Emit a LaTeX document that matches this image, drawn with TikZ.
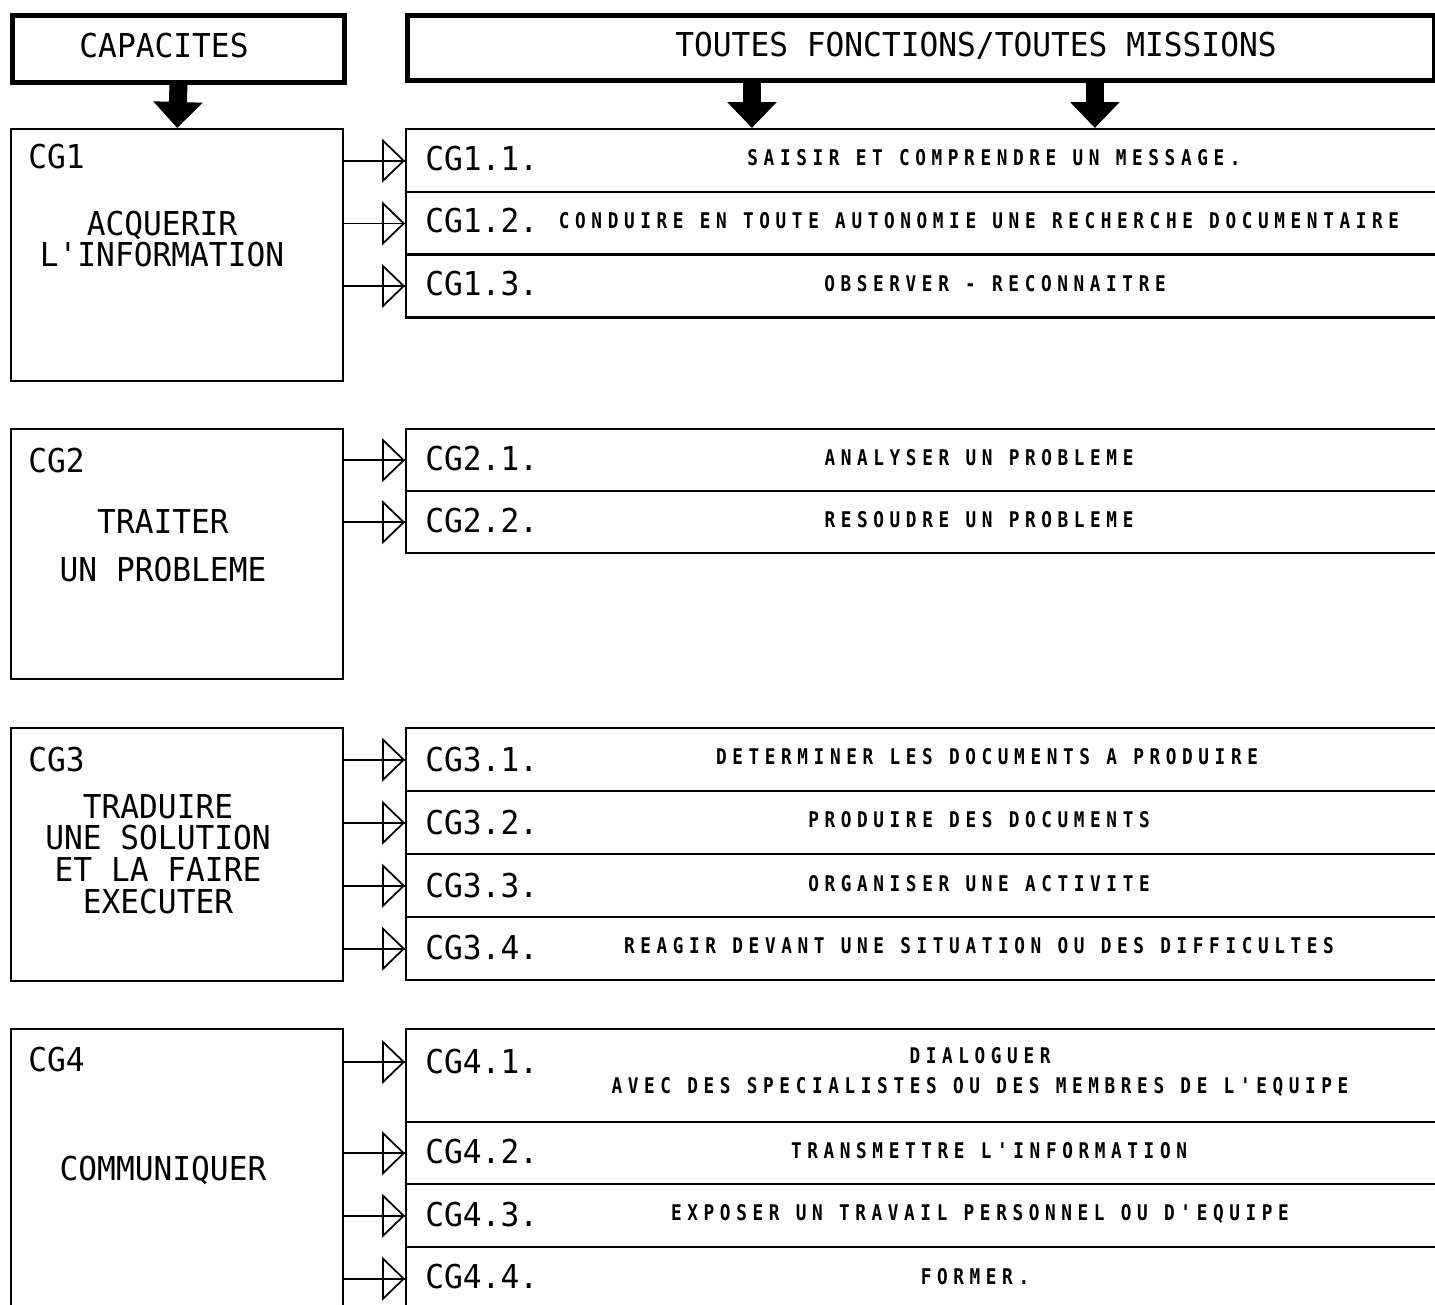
\documentclass[tikz,border=0pt]{standalone}
\usepackage{fontspec}
\usetikzlibrary{arrows.meta}
\newfontfamily\bigf[FakeStretch=0.95]{DejaVu Sans Mono}
\newfontfamily\smallf[FakeStretch=0.82,LetterSpace=26]{DejaVu Sans Mono Bold}
\begin{document}
\begin{tikzpicture}[x=0.02cm,y=-0.02cm,
  hdrbox/.style={draw, line width=2.8pt, inner sep=0, anchor=north west},
  leftbox/.style={draw, line width=1.4pt, inner sep=0, anchor=north west, minimum width=6.64cm},
  rowbox/.style={draw, line width=1.4pt, inner sep=0, anchor=north west, minimum width=20.8cm},
  bigtxt/.style={font=\bigf\fontsize{18.7}{18.1}\selectfont, inner sep=0, align=center},
  smalltxt/.style={font=\smallf\fontsize{12.3}{17.5}\selectfont, inner sep=0, align=center},
  conn/.style={line width=1pt, -{Triangle[open, length=0.46cm, width=0.88cm]}, postaction={draw, -}},
  fat/.style={line width=0.36cm, -{Triangle[length=0.52cm, width=0.96cm]}}]
\useasboundingbox (0,0) rectangle (1435,1304);
\clip (0,0) rectangle (1435,1304);
\fill[white] (0,0) rectangle (1435,1304);

% header boxes
\node[hdrbox, minimum width=6.64cm, minimum height=1.34cm] (cap) at (10,13) {};
\node[hdrbox, minimum width=20.54cm, minimum height=1.3cm] (tf) at (405,13) {};
\node[bigtxt] (capt) at (164,46) {CAPACITES};
\node[bigtxt] (tft) at (976,46) {TOUTES FONCTIONS/TOUTES MISSIONS};

% left boxes
\node[leftbox, minimum height=5.04cm] (cg1) at (10,128) {};
\node[leftbox, minimum height=5.0cm] (cg2) at (10,428) {};
\node[leftbox, minimum height=5.06cm] (cg3) at (10,727) {};
\node[leftbox, minimum height=5.7cm] (cg4) at (10,1028) {};

\node[bigtxt, anchor=west] (cg1l) at (28,157) {CG1};
\node[bigtxt] (cg1t) at (162,239) {ACQUERIR\\L'INFORMATION};
\node[bigtxt, anchor=west] (cg2l) at (28,461) {CG2};
\node[bigtxt] (cg2t) at (163,546) {TRAITER\\[9pt]UN PROBLEME};
\node[bigtxt, anchor=west] (cg3l) at (28,760) {CG3};
\node[bigtxt] (cg3t) at (158,854) {TRADUIRE\\UNE SOLUTION\\ET LA FAIRE\\EXECUTER};
\node[bigtxt, anchor=west] (cg4l) at (28,1060) {CG4};
\node[bigtxt] (cg4t) at (163,1170) {COMMUNIQUER};

% rows CG1
\node[rowbox, minimum height=1.26cm] (r11) at (405,128) {};
\node[rowbox, minimum height=1.26cm] (r12) at (405,190.7) {};
\node[rowbox, minimum height=1.26cm] (r13) at (405,253.3) {};
% rows CG2
\node[rowbox, minimum height=1.24cm] (r21) at (405,428) {};
\node[rowbox, minimum height=1.24cm] (r22) at (405,490) {};
% rows CG3
\node[rowbox, minimum height=1.26cm] (r31) at (405,727) {};
\node[rowbox, minimum height=1.26cm] (r32) at (405,790) {};
\node[rowbox, minimum height=1.26cm] (r33) at (405,853) {};
\node[rowbox, minimum height=1.26cm] (r34) at (405,916) {};
% rows CG4
\node[rowbox, minimum height=1.86cm] (r41) at (405,1028) {};
\node[rowbox, minimum height=1.24cm] (r42) at (405,1121) {};
\node[rowbox, minimum height=1.26cm] (r43) at (405,1183) {};
\node[rowbox, minimum height=1.26cm] (r44) at (405,1246) {};

% row labels
\node[bigtxt, anchor=west] (l11) at (425,159) {CG1.1.};
\node[bigtxt, anchor=west] (l12) at (425,221) {CG1.2.};
\node[bigtxt, anchor=west] (l13) at (425,284) {CG1.3.};
\node[bigtxt, anchor=west] (l21) at (425,459) {CG2.1.};
\node[bigtxt, anchor=west] (l22) at (425,521) {CG2.2.};
\node[bigtxt, anchor=west] (l31) at (425,760) {CG3.1.};
\node[bigtxt, anchor=west] (l32) at (425,823) {CG3.2.};
\node[bigtxt, anchor=west] (l33) at (425,886) {CG3.3.};
\node[bigtxt, anchor=west] (l34) at (425,948) {CG3.4.};
\node[bigtxt, anchor=west] (l41) at (425,1062) {CG4.1.};
\node[bigtxt, anchor=west] (l42) at (425,1152) {CG4.2.};
\node[bigtxt, anchor=west] (l43) at (425,1215) {CG4.3.};
\node[bigtxt, anchor=west] (l44) at (425,1277) {CG4.4.};

% descriptions
\node[smalltxt] (d11) at (994,158) {SAISIR ET COMPRENDRE UN MESSAGE.};
\node[smalltxt] (d12) at (979,221) {CONDUIRE EN TOUTE AUTONOMIE UNE RECHERCHE DOCUMENTAIRE};
\node[smalltxt] (d13) at (995,284) {OBSERVER - RECONNAITRE};
\node[smalltxt] (d21) at (979,458) {ANALYSER UN PROBLEME};
\node[smalltxt] (d22) at (979,520) {RESOUDRE UN PROBLEME};
\node[smalltxt] (d31) at (987,757) {DETERMINER LES DOCUMENTS A PRODUIRE};
\node[smalltxt] (d32) at (979,820) {PRODUIRE DES DOCUMENTS};
\node[smalltxt] (d33) at (979,884) {ORGANISER UNE ACTIVITE};
\node[smalltxt] (d34) at (979,946) {REAGIR DEVANT UNE SITUATION OU DES DIFFICULTES};
\node[smalltxt] (d41) at (980,1072) {DIALOGUER\\AVEC DES SPECIALISTES OU DES MEMBRES DE L'EQUIPE};
\node[smalltxt] (d42) at (989,1151) {TRANSMETTRE L'INFORMATION};
\node[smalltxt] (d43) at (980,1214) {EXPOSER UN TRAVAIL PERSONNEL OU D'EQUIPE};
\node[smalltxt] (d44) at (975,1277) {FORMER.};

% fat arrows
\draw[fat] (cap.south) -- (cg1.north);
\draw[fat] ([xshift=6.94cm]tf.south west) -- ([xshift=6.94cm]r11.north west);
\draw[fat] ([xshift=13.8cm]tf.south west) -- ([xshift=13.8cm]r11.north west);

% connectors
\foreach \r in {11,12,13}{\draw[conn] (cg1.east |- r\r.west) -- (r\r.west);}
\foreach \r in {21,22}{\draw[conn] (cg2.east |- r\r.west) -- (r\r.west);}
\foreach \r in {31,32,33,34}{\draw[conn] (cg3.east |- r\r.west) -- (r\r.west);}
\draw[conn] (cg4.east |- l41) -- (r41.west |- l41);
\foreach \r in {42,43,44}{\draw[conn] (cg4.east |- r\r.west) -- (r\r.west);}
\end{tikzpicture}
\end{document}
